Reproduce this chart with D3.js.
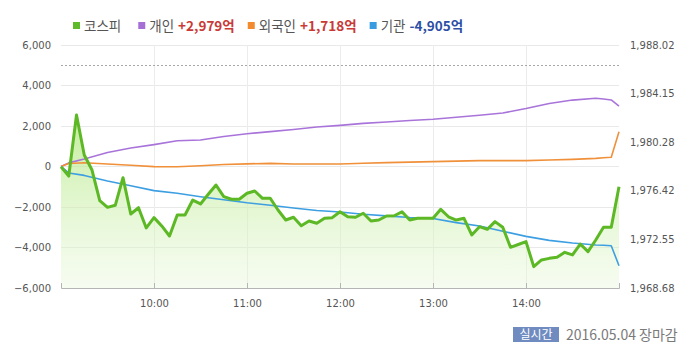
<!DOCTYPE html>
<html><head><meta charset="utf-8">
<script src="https://cdnjs.cloudflare.com/ajax/libs/d3/7.8.5/d3.min.js"></script>
<style>
html,body{margin:0;padding:0;background:#fff;}
svg{display:block;}
</style></head>
<body><svg id="chart" width="700" height="356"></svg>
<script>
// ---- data ----
const kospiTimes = ["09:00","09:05","09:10","09:15","09:20","09:25","09:30","09:35","09:40","09:45","09:50","09:55",
"10:00","10:05","10:10","10:15","10:20","10:25","10:30","10:35","10:40","10:45","10:50","10:55",
"11:00","11:05","11:10","11:15","11:20","11:25","11:30","11:35","11:40","11:45","11:50","11:55",
"12:00","12:05","12:10","12:15","12:20","12:25","12:30","12:35","12:40","12:45","12:50","12:55",
"13:00","13:05","13:10","13:15","13:20","13:25","13:30","13:35","13:40","13:45","13:50","13:55",
"14:00","14:05","14:10","14:15","14:20","14:25","14:30","14:35","14:40","14:45","14:50","14:55","15:00"];
const kospiValues = [1978.33,1977.59,1982.45,1979.27,1978.07,1975.63,1975.10,1975.26,1977.46,1974.57,1975.07,1973.46,
1974.28,1973.62,1972.82,1974.49,1974.49,1975.68,1975.37,1976.14,1976.88,1975.95,1975.74,1975.74,
1976.22,1976.40,1975.82,1975.82,1974.89,1974.09,1974.31,1973.64,1974.01,1973.83,1974.23,1974.28,
1974.75,1974.35,1974.31,1974.63,1974.01,1974.09,1974.41,1974.43,1974.75,1974.09,1974.23,1974.23,
1974.23,1974.94,1974.35,1974.09,1974.23,1972.90,1973.56,1973.35,1973.96,1973.51,1971.92,1972.14,
1972.37,1970.38,1970.91,1971.04,1971.12,1971.52,1971.31,1972.18,1971.57,1972.50,1973.51,1973.51,1976.74];

const flowTimes = ["09:00","09:05","09:15","09:30","09:45","10:00","10:15","10:30","10:45","11:00","11:15","11:30","11:45",
"12:00","12:15","12:30","12:45","13:00","13:15","13:30","13:45","14:00","14:15","14:30","14:45","14:50","14:55","15:00"];
const individualValues = [0,180,370,690,910,1080,1270,1310,1480,1620,1720,1830,1950,
2030,2130,2200,2270,2330,2430,2530,2640,2860,3110,3280,3370,3330,3285,2979];
const foreignValues = [0,150,185,120,60,-5,-10,35,100,130,155,125,125,
125,160,190,215,240,265,290,290,290,320,350,400,430,455,1718];
const institutionValues = [0,-320,-440,-720,-950,-1190,-1320,-1490,-1640,-1790,-1910,-2050,-2170,
-2250,-2360,-2440,-2520,-2570,-2770,-2940,-3200,-3450,-3650,-3780,-3875,-3890,-3910,-4905];

const leftTicks = [-6000,-4000,-2000,0,2000,4000,6000];
const rightTicks = [1968.68,1972.55,1976.42,1980.28,1984.15,1988.02];
const xTickLabels = ["10:00","11:00","12:00","13:00","14:00"];
const referenceLine = 5000;

const legendItems = [
  {name:"코스피", value:"", color:"#5fba2a", vcolor:"#000"},
  {name:"개인", value:"+2,979억", color:"#a56fd6", vcolor:"#c93a36"},
  {name:"외국인", value:"+1,718억", color:"#f28a2e", vcolor:"#c93a36"},
  {name:"기관", value:"-4,905억", color:"#3a9ce0", vcolor:"#2d4fa6"}
];
const footerBadge = "실시간";
const footerText = "2016.05.04 장마감";

// ---- layout ----
const svg = d3.select("#chart");
const L = 61, R = 619, T = 45, B = 288;
const parse = d3.timeParse("%H:%M");
const x = d3.scaleTime().domain([parse("09:00"), parse("15:00")]).range([L, R]);
const yL = d3.scaleLinear().domain([-6000, 6000]).range([B, T]);
const yR = d3.scaleLinear().domain([1968.68, 1988.02]).range([B, T]);
const axisFont = "'DejaVu Sans', Verdana, sans-serif";
const krFont = "'Noto Sans CJK KR', 'Noto Sans', sans-serif";

// gradient
const defs = svg.append("defs");
const grad = defs.append("linearGradient").attr("id","kfill")
  .attr("gradientUnits","userSpaceOnUse").attr("x1",0).attr("x2",0)
  .attr("y1", yR(d3.max(kospiValues))).attr("y2", B);
grad.append("stop").attr("offset","0%").attr("stop-color","#b3e882").attr("stop-opacity",0.8);
grad.append("stop").attr("offset","100%").attr("stop-color","#e6f7d6").attr("stop-opacity",0.35);

// horizontal grid
svg.append("g").selectAll("line").data(leftTicks.filter(d => d !== -6000)).join("line")
  .attr("x1", L).attr("x2", R).attr("y1", d => yL(d)).attr("y2", d => yL(d))
  .attr("stroke", "#e9e9e9").attr("stroke-width", 1).attr("shape-rendering","crispEdges");
// vertical grid
const hourTimes = xTickLabels.map(parse);
svg.append("g").selectAll("line").data(hourTimes).join("line")
  .attr("x1", d => x(d)).attr("x2", d => x(d)).attr("y1", T).attr("y2", B)
  .attr("stroke", "#ececec").attr("stroke-width", 1).attr("shape-rendering","crispEdges");

// kospi area
const kData = kospiTimes.map((t,i) => ({t: parse(t), v: kospiValues[i]}));
svg.append("path").datum(kData)
  .attr("d", d3.area().x(d => x(d.t)).y0(B).y1(d => yR(d.v)))
  .attr("fill", "url(#kfill)");

// reference dotted line
svg.append("line").attr("x1", L).attr("x2", R)
  .attr("y1", yL(referenceLine)).attr("y2", yL(referenceLine))
  .attr("stroke", "#a8a8a8").attr("stroke-width", 1).attr("stroke-dasharray", "2,2")
  .attr("shape-rendering","crispEdges");

// bottom axis
const xAxis = d3.axisBottom(x).tickValues([parse("09:00"), ...hourTimes, parse("15:00")])
  .tickSize(-5).tickFormat(d => {const s = d3.timeFormat("%H:%M")(d); return xTickLabels.includes(s) ? s : "";});
const gx = svg.append("g").attr("transform", `translate(0,${B})`).call(xAxis);
gx.select(".domain").attr("stroke", "#b5b5b5");
gx.selectAll(".tick line").attr("stroke", "#b5b5b5");
gx.selectAll("text").attr("fill", "#555").attr("font-family", axisFont).attr("font-size", 10).attr("dy", "1.55em");

// left axis
const gl = svg.append("g").attr("transform", `translate(${L},0)`)
  .call(d3.axisLeft(yL).tickValues(leftTicks).tickSize(0).tickPadding(10).tickFormat(d3.format(",")));
gl.select(".domain").remove();
gl.selectAll("text").attr("fill", "#555").attr("font-family", axisFont).attr("font-size", 10);

// right axis
const gr = svg.append("g").attr("transform", `translate(${R},0)`)
  .call(d3.axisRight(yR).tickValues(rightTicks).tickSize(0).tickPadding(11).tickFormat(d3.format(",.2f")));
gr.select(".domain").remove();
gr.selectAll("text").attr("fill", "#555").attr("font-family", axisFont).attr("font-size", 10);

// flow lines
const flowLine = d3.line().x((d,i) => x(parse(flowTimes[i]))).y(d => yL(d));
[[individualValues,"#a974da"],[foreignValues,"#f0903a"],[institutionValues,"#3d9fe2"]].forEach(([vals,c]) => {
  svg.append("path").datum(vals).attr("d", flowLine).attr("fill","none")
    .attr("stroke", c).attr("stroke-width", 1.6).attr("stroke-linejoin","round");
});

// kospi line
svg.append("path").datum(kData)
  .attr("d", d3.line().x(d => x(d.t)).y(d => yR(d.v)))
  .attr("fill","none").attr("stroke","#5cb825").attr("stroke-width",3).attr("stroke-linejoin","round");

// legend
const lg = svg.append("g").attr("font-family", krFont).attr("font-size", 13.5);
let lx = 73;
legendItems.forEach(it => {
  lg.append("rect").attr("x", lx).attr("y", 22).attr("width", 7).attr("height", 7).attr("fill", it.color);
  lx += 11;
  const t1 = lg.append("text").attr("x", lx).attr("y", 31).attr("fill", "#555").text(it.name);
  lx += t1.node().getComputedTextLength() + 4;
  if (it.value) {
    const t2 = lg.append("text").attr("x", lx).attr("y", 31).attr("fill", it.vcolor)
      .attr("font-weight", "bold").text(it.value);
    lx += t2.node().getComputedTextLength();
  }
  lx += 13;
});

// footer
svg.append("rect").attr("x", 513).attr("y", 327).attr("width", 46).attr("height", 15).attr("fill", "#6f8bc0");
svg.append("text").attr("x", 536).attr("y", 339).attr("text-anchor","middle").attr("fill","#fff")
  .attr("font-family", krFont).attr("font-size", 12).text(footerBadge);
svg.append("text").attr("x", 566).attr("y", 340).attr("fill","#7a7a7a")
  .attr("font-family", krFont).attr("font-size", 14).text(footerText);
</script></body></html>
